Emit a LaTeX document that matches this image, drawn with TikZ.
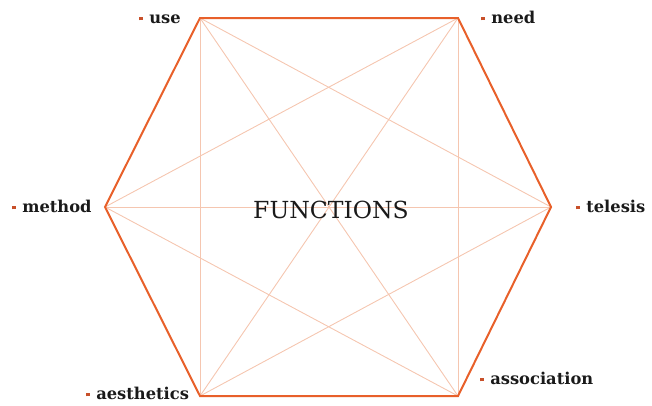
\documentclass[tikz,border=0pt]{standalone}
\usepackage{fontspec}
\setmainfont{DejaVu Serif}
\definecolor{hexc}{HTML}{E8602A}
\definecolor{diagc}{HTML}{F5C6B0}
\definecolor{bulc}{HTML}{C8502A}
\definecolor{txtc}{HTML}{1A1A1A}
\begin{document}
\begin{tikzpicture}[x=1pt,y=-1pt,
  lbl/.style={anchor=base west,inner sep=0pt,font=\bfseries\fontsize{16.3}{19}\selectfont,text=txtc},
  hexedge/.style={draw=hexc,line width=2pt,line join=miter},
  diag/.style={draw=diagc,line width=0.9pt}]
\useasboundingbox (0,0) rectangle (652,405);
\coordinate (use) at (200,18);
\coordinate (need) at (458,18);
\coordinate (telesis) at (551,207);
\coordinate (assoc) at (458,396);
\coordinate (aesth) at (200,396);
\coordinate (method) at (105,207);
\foreach \a/\b in {use/aesth,use/assoc,use/telesis,need/method,need/aesth,need/assoc,method/telesis,method/assoc,aesth/telesis}
  \draw[diag] (\a) -- (\b);
\draw[hexedge] (use) -- (need) -- (telesis) -- (assoc) -- (aesth) -- (method) -- cycle;
\newcommand{\bul}{\raisebox{2.7pt}{\textcolor{bulc}{\rule{3.6pt}{3.6pt}}}\hspace{6.5pt}}
\node[lbl] (luse) at (139,23) {\bul use};
\node[lbl] (lneed) at (481,23) {\bul need};
\node[lbl] (lmethod) at (12,212) {\bul method};
\node[lbl] (ltelesis) at (576,212) {\bul telesis};
\node[lbl] (lassoc) at (480,384) {\bul association};
\node[lbl] (laesth) at (86,399) {\bul aesthetics};
\node[inner sep=0pt,font=\fontsize{23.5}{26}\selectfont,text=txtc] (func) at (331,210) {FUNCTIONS};
\end{tikzpicture}
\end{document}
